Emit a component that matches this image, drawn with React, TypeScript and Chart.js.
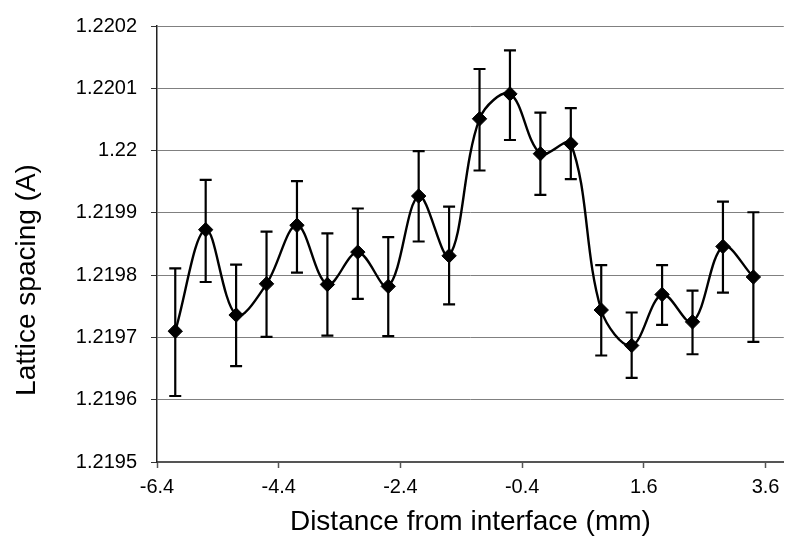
import React, { useEffect, useRef } from "react";
import { Chart, registerables } from "chart.js";

Chart.register(...registerables);

const xValues = [-6.1, -5.6, -5.1, -4.6, -4.1, -3.6, -3.1, -2.6, -2.1, -1.6, -1.1, -0.6, -0.1, 0.4, 0.9, 1.4, 1.9, 2.4, 2.9, 3.4];
const latticeValues = [1.21971, 1.219873, 1.219736, 1.219786, 1.21988, 1.219785, 1.219837, 1.219782, 1.219927, 1.219831, 1.220051, 1.220091, 1.219995, 1.220011, 1.219744, 1.219687, 1.219769, 1.219725, 1.219846, 1.219797];
const errorUpper = [1.219811, 1.219953, 1.219817, 1.21987, 1.219951, 1.219867, 1.219907, 1.219861, 1.219999, 1.21991, 1.220131, 1.220161, 1.220061, 1.220068, 1.219816, 1.21974, 1.219816, 1.219775, 1.219918, 1.219901];
const errorLower = [1.219606, 1.219789, 1.219654, 1.219701, 1.219804, 1.219703, 1.219762, 1.219702, 1.219854, 1.219753, 1.219968, 1.220017, 1.219929, 1.219954, 1.219671, 1.219635, 1.21972, 1.219673, 1.219772, 1.219693];
const xTicks = [-6.4, -4.4, -2.4, -0.4, 1.6, 3.6];
const yTicks = [1.2195, 1.2196, 1.2197, 1.2198, 1.2199, 1.22, 1.2201, 1.2202];
const xTitle = "Distance from interface (mm)";
const yTitle = "Lattice spacing (A)";

const FONT = "'Liberation Sans', Arial, sans-serif";

const errorBarPlugin = {
  id: "errorBars",
  beforeDatasetsDraw(chart: any) {
    const { ctx, scales } = chart;
    const xs = scales.x;
    const ys = scales.y;
    ctx.save();
    ctx.strokeStyle = "#000";
    ctx.lineWidth = 2.2;
    const cap = 6;
    for (let i = 0; i < xValues.length; i++) {
      const px = xs.getPixelForValue(xValues[i]);
      const pt = ys.getPixelForValue(errorUpper[i]);
      const pb = ys.getPixelForValue(errorLower[i]);
      ctx.beginPath();
      ctx.moveTo(px, pt);
      ctx.lineTo(px, pb);
      ctx.moveTo(px - cap, pt);
      ctx.lineTo(px + cap, pt);
      ctx.moveTo(px - cap, pb);
      ctx.lineTo(px + cap, pb);
      ctx.stroke();
    }
    ctx.restore();
  },
};

const titlePlugin = {
  id: "axisTitles",
  afterDraw(chart: any) {
    const { ctx, chartArea } = chart;
    ctx.save();
    ctx.fillStyle = "#000";
    ctx.font = `28px ${FONT}`;
    ctx.textAlign = "center";
    ctx.textBaseline = "middle";
    ctx.fillText(xTitle, (chartArea.left + chartArea.right) / 2, 522);
    ctx.translate(27, 280);
    ctx.rotate(-Math.PI / 2);
    ctx.fillText(yTitle, 0, 0);
    ctx.restore();
  },
};

export default function App() {
  const ref = useRef<HTMLCanvasElement>(null);
  useEffect(() => {
    if (!ref.current) return;
    const chart = new Chart(ref.current, {
      type: "line",
      data: {
        datasets: [
          {
            data: xValues.map((x, i) => ({ x, y: latticeValues[i] })),
            borderColor: "#000",
            borderWidth: 2.4,
            backgroundColor: "#000",
            pointStyle: "rectRot",
            pointRadius: 7.2,
            pointBorderWidth: 1,
            pointBackgroundColor: "#000",
            pointBorderColor: "#000",
            tension: 0.35,
            fill: false,
          },
        ],
      },
      options: {
        responsive: false,
        animation: false,
        devicePixelRatio: 1,
        layout: { padding: { top: 23, right: 0, bottom: 0, left: 0 } },
        plugins: { legend: { display: false }, tooltip: { enabled: false } },
        scales: {
          x: {
            type: "linear",
            min: -6.4,
            max: 3.9,
            afterBuildTicks: (s: any) => {
              s.ticks = xTicks.map((v) => ({ value: v }));
            },
            afterFit: (s: any) => {
              s.height = 78;
            },
            grid: { drawOnChartArea: false, drawTicks: true, tickLength: 6, tickColor: "#555", tickWidth: 1.5 },
            border: { color: "#555", width: 2 },
            ticks: {
              color: "#000",
              font: { family: FONT, size: 20 },
              padding: 7,
              maxRotation: 0,
              autoSkip: false,
              callback: (v: any) => Number(v).toFixed(1),
            },
          },
          y: {
            type: "linear",
            min: 1.2195,
            max: 1.2202,
            afterBuildTicks: (s: any) => {
              s.ticks = yTicks.map((v) => ({ value: v }));
            },
            afterFit: (s: any) => {
              s.width = 157;
            },
            grid: { color: "#808080", lineWidth: 1, drawTicks: true, tickLength: 6, tickColor: "#333" },
            border: { color: "#222", width: 1.5 },
            ticks: {
              color: "#000",
              font: { family: FONT, size: 20 },
              padding: 14,
              autoSkip: false,
              callback: (v: any) => String(Number(Number(v).toFixed(4))),
            },
          },
        },
      },
      plugins: [errorBarPlugin, titlePlugin],
    });
    return () => chart.destroy();
  }, []);
  return (
    <div style={{ position: "absolute", left: 0, top: 0, width: 792, height: 540, background: "#fff" }}>
      <canvas ref={ref} width={792} height={540} style={{ display: "block" }} />
    </div>
  );
}
